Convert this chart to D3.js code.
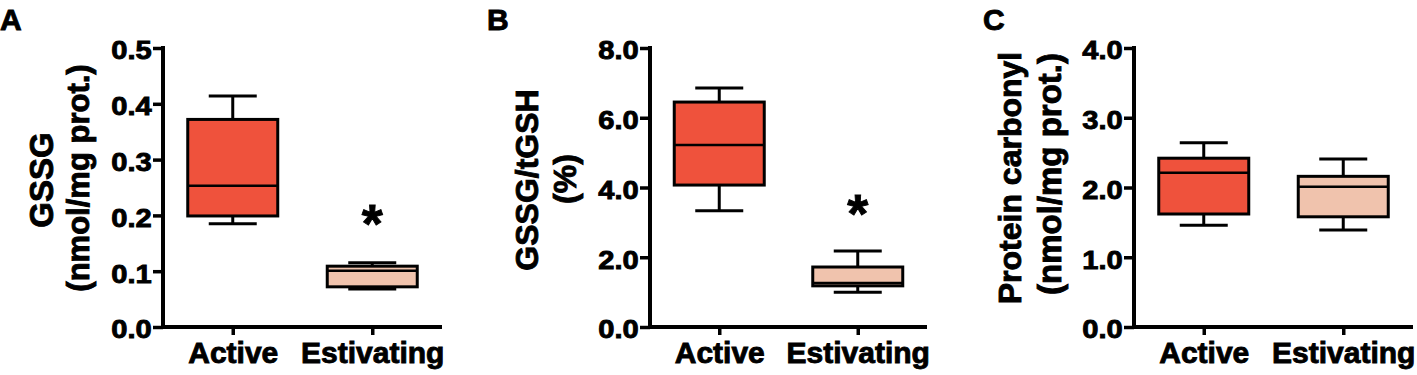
<!DOCTYPE html>
<html>
<head>
<meta charset="utf-8">
<script src="https://cdn.jsdelivr.net/npm/d3@7"></script>
<style>
  body { margin: 0; background: #fff; }
  svg { display: block; font-family: "Liberation Sans", Arial, sans-serif; font-weight: bold; }
  svg text { stroke: #000; stroke-width: 0.9px; }
</style>
</head>
<body>
<div id="chart"></div>
<script>
// groups on the x axis
const categories = ["Active", "Estivating"];

// box stats per group: [min, q1, median, q3, max]
const gssgStats = [[0.185, 0.199, 0.253, 0.372, 0.414], [0.068, 0.072, 0.101, 0.109, 0.115]];
const ratioStats = [[3.33, 4.07, 5.22, 6.45, 6.85], [1.00, 1.18, 1.26, 1.72, 2.18]];
const carbonylStats = [[1.46, 1.62, 2.21, 2.42, 2.64], [1.39, 1.58, 2.01, 2.16, 2.41]];

// y ticks
const gssgTicks = [0, 0.1, 0.2, 0.3, 0.4, 0.5];
const ratioTicks = [0, 2, 4, 6, 8];
const carbonylTicks = [0, 1, 2, 3, 4];

// significance marks (value where the * sits, null = none)
const gssgStars = [null, 0.2];
const ratioStars = [null, 3.5];
const carbonylStars = [null, null];

const colors = ["#EF523C", "#F0C3AD"];

const width = 1417, height = 375;
const yTop = 48, yBottom = 327;

const svg = d3.select("#chart").append("svg")
  .attr("width", width)
  .attr("height", height);

/**
 * drawPanel(): one box plot panel with its own axis and titles
 */
function drawPanel(opt) {
  const g = svg.append("g").attr("class", "panel");

  const y = d3.scaleLinear().domain(opt.domain).range([yBottom, yTop]);
  const x = d3.scalePoint().domain(categories).range([opt.axisX, opt.axisEnd]).padding(0.5);

  // panel letter
  g.append("text")
    .attr("x", opt.letterX)
    .attr("y", 30)
    .attr("font-size", 30)
    .text(opt.letter);

  // y axis
  const yAxis = g.append("g")
    .attr("transform", `translate(${opt.axisX},0)`)
    .call(d3.axisLeft(y).tickValues(opt.ticks).tickFormat(d3.format(".1f")).tickSize(10).tickSizeOuter(0).tickPadding(0));
  yAxis.select(".domain").attr("stroke", "#000").attr("stroke-width", 4)
    .attr("d", `M0,${yTop - 2}V${yBottom + 2}`);
  yAxis.selectAll(".tick line").attr("stroke", "#000").attr("stroke-width", 3.5);
  yAxis.selectAll(".tick text")
    .attr("font-size", 26)
    .attr("font-family", "Liberation Sans, Arial, sans-serif")
    .attr("font-weight", "bold")
    .attr("fill", "#000")
    .attr("dy", "0.42em")
    .attr("transform", "scale(1.12,1)");

  // x axis
  const xAxis = g.append("g")
    .attr("transform", `translate(0,${yBottom})`)
    .call(d3.axisBottom(x).tickSize(8).tickSizeOuter(0).tickPadding(6));
  xAxis.select(".domain").attr("stroke", "#000").attr("stroke-width", 4)
    .attr("d", `M${opt.axisX - 2},0H${opt.axisEnd}`);
  xAxis.selectAll(".tick line").attr("stroke", "#000").attr("stroke-width", 3.5);
  xAxis.selectAll(".tick text")
    .attr("font-size", 30)
    .attr("font-family", "Liberation Sans, Arial, sans-serif")
    .attr("font-weight", "bold")
    .attr("fill", "#000")
    .attr("y", 36)
    .attr("dy", 0);

  // boxes
  const boxW = 90, capW = 48;
  const boxes = g.selectAll("g.box")
    .data(opt.stats.map((s, i) => ({ cat: categories[i], s, color: colors[i] })))
    .enter().append("g").attr("class", "box");

  // whiskers
  boxes.append("line")
    .attr("x1", d => x(d.cat)).attr("x2", d => x(d.cat))
    .attr("y1", d => y(d.s[4])).attr("y2", d => y(d.s[3]))
    .attr("stroke", "#000").attr("stroke-width", 3);
  boxes.append("line")
    .attr("x1", d => x(d.cat)).attr("x2", d => x(d.cat))
    .attr("y1", d => y(d.s[1])).attr("y2", d => y(d.s[0]))
    .attr("stroke", "#000").attr("stroke-width", 3);
  [0, 4].forEach(k => {
    boxes.append("line")
      .attr("x1", d => x(d.cat) - capW / 2).attr("x2", d => x(d.cat) + capW / 2)
      .attr("y1", d => y(d.s[k])).attr("y2", d => y(d.s[k]))
      .attr("stroke", "#000").attr("stroke-width", 3);
  });

  boxes.append("rect")
    .attr("x", d => x(d.cat) - boxW / 2)
    .attr("y", d => y(d.s[3]))
    .attr("width", boxW)
    .attr("height", d => y(d.s[1]) - y(d.s[3]))
    .attr("fill", d => d.color)
    .attr("stroke", "#000")
    .attr("stroke-width", 3);

  // median
  boxes.append("line")
    .attr("x1", d => x(d.cat) - boxW / 2).attr("x2", d => x(d.cat) + boxW / 2)
    .attr("y1", d => y(d.s[2])).attr("y2", d => y(d.s[2]))
    .attr("stroke", "#000").attr("stroke-width", 2.5);

  // stars
  opt.stars.forEach((v, i) => {
    if (v == null) return;
    g.append("text")
      .attr("x", x(categories[i]))
      .attr("y", y(v) + 27)
      .attr("text-anchor", "middle")
      .attr("font-size", 54)
      .text("*");
  });

  // y titles, rotated
  opt.titles.forEach(t => {
    g.append("text")
      .attr("transform", `translate(${t.x},${t.y}) rotate(-90)`)
      .attr("text-anchor", "middle")
      .attr("font-size", t.size)
      .text(t.text);
  });
}

drawPanel({
  letter: "A", letterX: 0,
  axisX: 163, axisEnd: 442,
  domain: [0, 0.5], ticks: gssgTicks,
  stats: gssgStats, stars: gssgStars,
  titles: [
    { text: "GSSG", x: 53, y: 180, size: 33 },
    { text: "(nmol/mg prot.)", x: 89, y: 178, size: 31 }
  ]
});

drawPanel({
  letter: "B", letterX: 487,
  axisX: 650, axisEnd: 927,
  domain: [0, 8], ticks: ratioTicks,
  stats: ratioStats, stars: ratioStars,
  titles: [
    { text: "GSSG/tGSH", x: 538, y: 180, size: 32 },
    { text: "(%)", x: 576, y: 179, size: 32 }
  ]
});

drawPanel({
  letter: "C", letterX: 983,
  axisX: 1134, axisEnd: 1413,
  domain: [0, 4], ticks: carbonylTicks,
  stats: carbonylStats, stars: carbonylStars,
  titles: [
    { text: "Protein carbonyl", x: 1021, y: 178, size: 32 },
    { text: "(nmol/mg prot.)", x: 1061, y: 174, size: 33 }
  ]
});
</script>
</body>
</html>
